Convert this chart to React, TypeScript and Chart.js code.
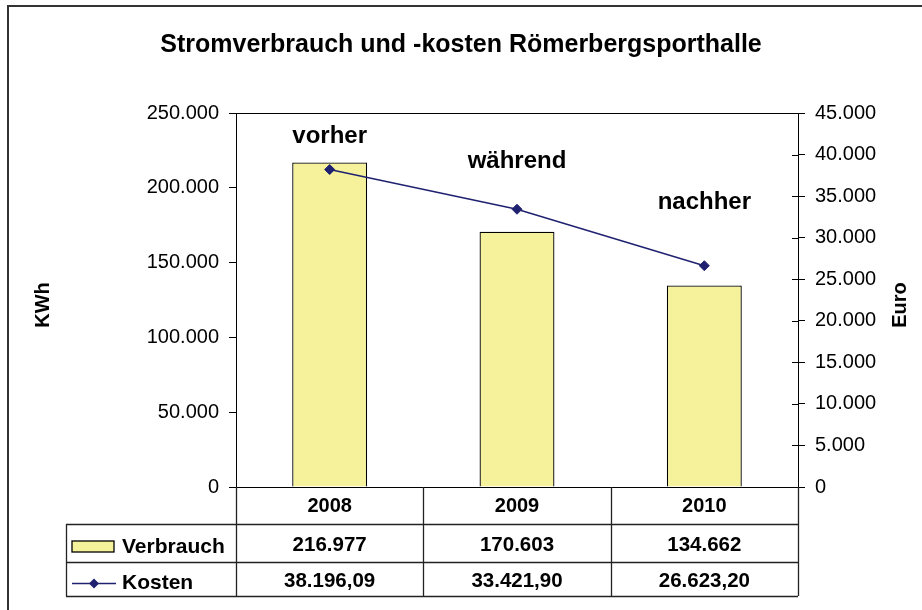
import React, { useEffect, useRef } from 'react';
import { Chart, registerables } from 'chart.js';

Chart.register(...registerables);

// ---- data ----
const years = ['2008', '2009', '2010'];
const verbrauch = [216977, 170603, 134662];
const kosten = [38196.09, 33421.9, 26623.2];
const phaseLabels = ['vorher', 'während', 'nachher'];
const phaseLevels = [230000, 213000, 186000]; // label baselines, in KWh axis units
const kwhAxis = { min: 0, max: 250000, step: 50000 };
const euroAxis = { min: 0, max: 45000, step: 5000 };
const titleText = 'Stromverbrauch und -kosten Römerbergsporthalle';
const seriesNames = ['Verbrauch', 'Kosten'];
const axisTitles = ['KWh', 'Euro'];

// ---- style ----
const FONT = '"Liberation Sans", Arial, Helvetica, sans-serif';
const BAR_FILL = '#f6f29c';
const LINE_COLOR = '#1f2170';

function fmtDE(n: number, decimals = 0): string {
  const s = n.toFixed(decimals);
  const [i, d] = s.split('.');
  const intPart = i.replace(/\B(?=(\d{3})+(?!\d))/g, '.');
  return d ? intPart + ',' + d : intPart;
}

function diamond(ctx: CanvasRenderingContext2D, x: number, y: number, r: number) {
  ctx.beginPath();
  ctx.moveTo(x, y - r);
  ctx.lineTo(x + r, y);
  ctx.lineTo(x, y + r);
  ctx.lineTo(x - r, y);
  ctx.closePath();
  ctx.fill();
}

const decorPlugin = {
  id: 'decor',
  afterDraw(chart: any) {
    const ctx: CanvasRenderingContext2D = chart.ctx;
    const { left, right, top, bottom } = chart.chartArea;
    const xs = chart.scales.x;
    const y = chart.scales.y;
    const y1 = chart.scales.y1;
    ctx.save();

    // outer frame (top + left)
    ctx.strokeStyle = '#333';
    ctx.lineWidth = 2;
    ctx.beginPath();
    ctx.moveTo(8, chart.height);
    ctx.lineTo(8, 6);
    ctx.lineTo(chart.width, 6);
    ctx.stroke();

    // plot box top & bottom
    ctx.strokeStyle = '#000';
    ctx.lineWidth = 1;
    ctx.beginPath();
    ctx.moveTo(left, Math.round(top) + 0.5);
    ctx.lineTo(right, Math.round(top) + 0.5);
    ctx.moveTo(left, Math.round(bottom) + 0.5);
    ctx.lineTo(right, Math.round(bottom) + 0.5);
    ctx.stroke();

    // inner half of right-axis cross ticks
    ctx.beginPath();
    y1.ticks.forEach((t: any) => {
      const py = Math.round(y1.getPixelForValue(t.value)) + 0.5;
      ctx.moveTo(right - 6, py);
      ctx.lineTo(right, py);
    });
    ctx.stroke();

    // phase annotations
    ctx.fillStyle = '#000';
    ctx.font = `bold 24px ${FONT}`;
    ctx.textAlign = 'center';
    ctx.textBaseline = 'alphabetic';
    phaseLabels.forEach((t, i) => {
      ctx.fillText(t, xs.getPixelForValue(i), y.getPixelForValue(phaseLevels[i]));
    });

    // axis titles (both read bottom-to-top)
    ctx.font = `bold 20px ${FONT}`;
    ctx.textBaseline = 'middle';
    const midY = (top + bottom) / 2 + 5;
    [[43, axisTitles[0]], [chart.width - 22, axisTitles[1]]].forEach(([cx, txt]: any) => {
      ctx.save();
      ctx.translate(cx, midY);
      ctx.rotate(-Math.PI / 2);
      ctx.fillText(txt, 0, 0);
      ctx.restore();
    });

    // data table
    const n = years.length;
    const cw = (right - left) / n;
    const tableLeft = 66;
    const r0 = Math.round(bottom);
    const r1 = r0 + 37;
    const r2 = r1 + 38;
    const r3 = r2 + 34;
    ctx.strokeStyle = '#222';
    ctx.lineWidth = 1.3;
    ctx.beginPath();
    for (let k = 0; k <= n; k++) {
      const bx = Math.round(left + k * cw) + 0.5;
      ctx.moveTo(bx, r0);
      ctx.lineTo(bx, r3);
    }
    ctx.moveTo(tableLeft + 0.5, r1);
    ctx.lineTo(tableLeft + 0.5, r3);
    [r1, r2, r3].forEach((ry) => {
      ctx.moveTo(tableLeft, ry + 0.5);
      ctx.lineTo(right, ry + 0.5);
    });
    ctx.stroke();

    ctx.fillStyle = '#000';
    ctx.textAlign = 'center';
    ctx.textBaseline = 'alphabetic';
    ctx.font = `bold 20px ${FONT}`;
    years.forEach((yr, i) => ctx.fillText(yr, xs.getPixelForValue(i), r0 + 25));
    ctx.font = `bold 20.5px ${FONT}`;
    verbrauch.forEach((v, i) => ctx.fillText(fmtDE(v), xs.getPixelForValue(i), r1 + 27));
    kosten.forEach((v, i) => ctx.fillText(fmtDE(v, 2), xs.getPixelForValue(i), r2 + 25));

    // legend keys in table
    ctx.fillStyle = BAR_FILL;
    ctx.fillRect(72, r1 + 17, 42, 11);
    ctx.strokeStyle = '#000';
    ctx.lineWidth = 1.3;
    ctx.strokeRect(72, r1 + 17, 42, 11);
    ctx.strokeStyle = LINE_COLOR;
    ctx.lineWidth = 1.5;
    ctx.beginPath();
    ctx.moveTo(72, r2 + 21.5);
    ctx.lineTo(116, r2 + 21.5);
    ctx.stroke();
    ctx.fillStyle = LINE_COLOR;
    diamond(ctx, 94, r2 + 21.5, 5);

    ctx.fillStyle = '#000';
    ctx.textAlign = 'left';
    ctx.font = `bold 21px ${FONT}`;
    ctx.fillText(seriesNames[0], 122, r1 + 29);
    ctx.fillText(seriesNames[1], 122, r2 + 27);

    ctx.restore();
  },
};

export default function App() {
  const ref = useRef<HTMLCanvasElement | null>(null);

  useEffect(() => {
    if (!ref.current) return;
    Chart.defaults.font.family = FONT;
    const chart = new Chart(ref.current, {
      type: 'bar',
      data: {
        labels: years,
        datasets: [
          {
            type: 'line',
            label: seriesNames[1],
            data: kosten,
            yAxisID: 'y1',
            borderColor: LINE_COLOR,
            backgroundColor: LINE_COLOR,
            borderWidth: 1.5,
            pointStyle: 'rectRot',
            pointRadius: 5,
            pointBackgroundColor: LINE_COLOR,
            pointBorderColor: LINE_COLOR,
            pointBorderWidth: 1,
            tension: 0,
            order: 1,
          } as any,
          {
            type: 'bar',
            label: seriesNames[0],
            data: verbrauch,
            yAxisID: 'y',
            backgroundColor: BAR_FILL,
            borderColor: '#000',
            borderWidth: 1.3,
            barPercentage: 0.4,
            categoryPercentage: 1,
            order: 2,
          } as any,
        ],
      },
      options: {
        responsive: false,
        animation: false,
        devicePixelRatio: 1,
        layout: { padding: { top: 0, left: 0, right: 0, bottom: 123 } },
        plugins: {
          legend: { display: false },
          tooltip: { enabled: false },
          title: {
            display: true,
            text: titleText,
            color: '#000',
            font: { family: FONT, size: 25, weight: 'bold' },
            padding: { top: 30, bottom: 53 },
          },
        },
        scales: {
          x: {
            type: 'category',
            display: false,
            offset: true,
          },
          y: {
            position: 'left',
            min: kwhAxis.min,
            max: kwhAxis.max,
            afterFit: (s: any) => {
              s.width = 236;
            },
            ticks: {
              stepSize: kwhAxis.step,
              color: '#000',
              padding: 10,
              font: { family: FONT, size: 20 },
              callback: (v: any) => fmtDE(Number(v)),
            },
            grid: {
              drawOnChartArea: false,
              drawTicks: true,
              tickLength: 7,
              color: '#000',
            },
            border: { display: true, color: '#000', width: 1 },
          },
          y1: {
            position: 'right',
            min: euroAxis.min,
            max: euroAxis.max,
            afterFit: (s: any) => {
              s.width = 124;
            },
            ticks: {
              stepSize: euroAxis.step,
              color: '#000',
              padding: 10,
              font: { family: FONT, size: 20 },
              callback: (v: any) => fmtDE(Number(v)),
            },
            grid: {
              drawOnChartArea: false,
              drawTicks: true,
              tickLength: 7,
              color: '#000',
            },
            border: { display: true, color: '#000', width: 1 },
          },
        },
      } as any,
      plugins: [decorPlugin],
    });
    return () => chart.destroy();
  }, []);

  return (
    <div style={{ position: 'absolute', left: 0, top: 0, width: 922, height: 610, background: '#fff' }}>
      <canvas ref={ref} width={922} height={610} />
    </div>
  );
}
